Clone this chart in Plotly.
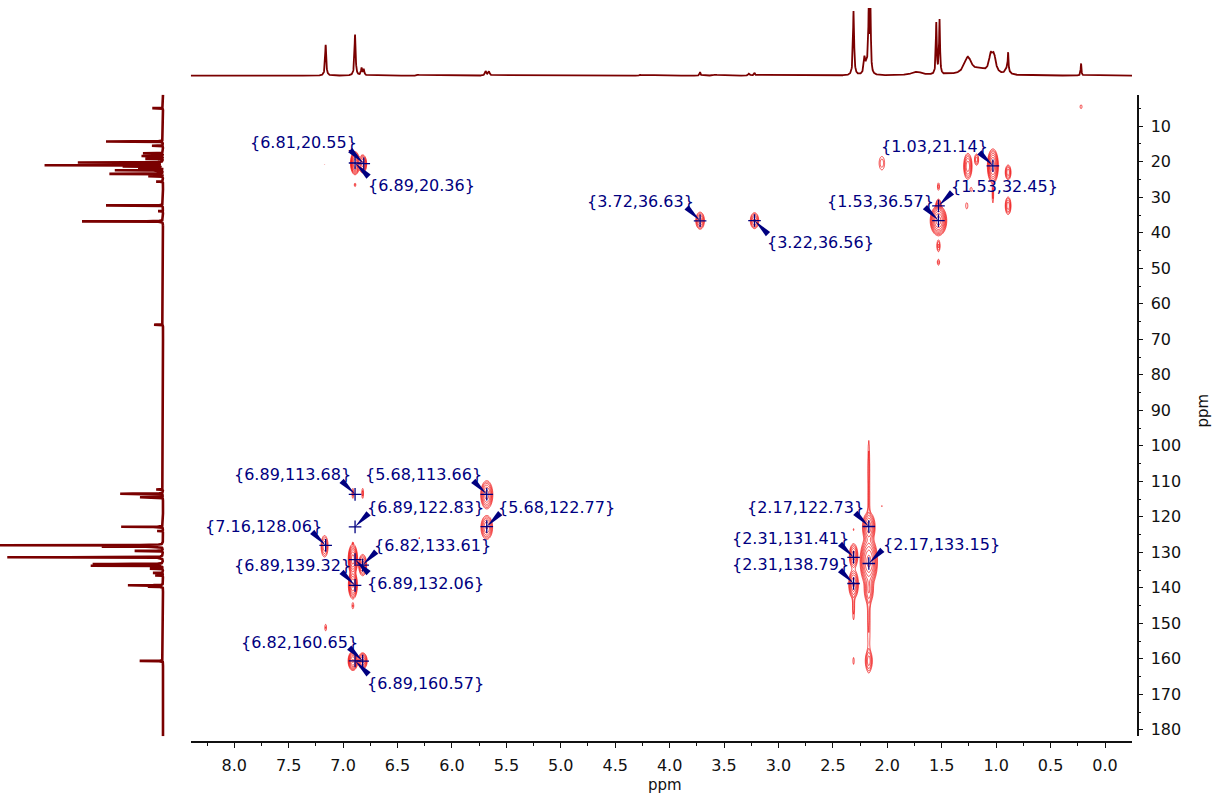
import numpy as np
import plotly.graph_objects as go

W, H = 1215, 796

# ---------------- data ----------------
# 1H projection (top): peak ppm, height, half width
h_ppm = [7.16, 6.89, 6.83, 6.81, 6.31, 5.69, 5.66, 4.27, 3.72, 3.58, 3.27, 3.22,
         2.31, 2.21, 2.19, 2.17, 2.155, 1.73, 1.55, 1.52, 1.42, 1.26, 1.15, 1.05,
         1.02, 0.90, 0.89, 0.22]
h_int = [30, 40, 7, 6, 1, 4, 4, 0.8, 3.5, 1, 2, 2.8,
         63, 15, 10, 65, 60, 3.5, 50, 53, 1, 17, 5, 16,
         16, 6, 17, 12]
h_hw = [0.006, 0.006, 0.006, 0.006, 0.01, 0.008, 0.008, 0.01, 0.005, 0.02, 0.008, 0.006,
        0.006, 0.008, 0.012, 0.005, 0.005, 0.06, 0.005, 0.005, 0.02, 0.04, 0.06, 0.02,
        0.02, 0.02, 0.004, 0.004]

# 13C projection (left): peak ppm, height
c_ppm = [4.9, 14.3, 15.5, 17.6, 18.4, 19.2, 20.2, 20.5, 21.0, 21.3, 21.7, 22.4, 23.4,
         24.1, 25.6, 32.3, 33.9, 36.8, 65.9, 112.3, 113.5, 114.5, 122.8, 124.0,
         128.0, 128.4, 129.6, 131.4, 133.3, 133.8, 134.6, 135.8, 136.5, 139.3, 139.7, 160.6]
c_int = [11, 57, 11, 20, 22, 18, 87, 30, 121, 40, 25, 48, 55,
         15, 7, 57, 5, 81, 9, 7, 44, 23, 43, 6,
         165, 62, 29, 160, 72, 74, 13, 10, 8, 36, 15, 24]

# HMBC cross peaks: 1H ppm, 13C ppm, amplitude
cp_h = [6.89, 6.82, 6.89, 7.17,
        3.72, 3.22,
        2.05, 1.26, 1.18, 1.03, 1.03, 0.89, 0.89, 1.23, 1.27, 1.53, 1.53, 1.53, 1.53, 1.53,
        6.91, 6.82, 7.17, 6.91, 6.82, 6.91, 6.91, 7.16, 6.30, 6.91, 6.91, 6.82,
        5.68, 5.68,
        2.17, 2.17, 2.17, 2.17, 2.17, 2.17, 2.31, 2.31, 2.31, 2.31, 2.31, 2.17, 2.05,
        0.22]
cp_c = [20.4, 20.6, 26.5, 20.8,
        36.6, 36.6,
        20.4, 21.3, 19.4, 21.2, 29.0, 23.0, 32.4, 27.8, 32.4, 36.6, 32.5, 27.0, 43.7, 48.3,
        113.4, 113.4, 128.3, 132.0, 133.6, 139.2, 145.1, 151.2, 126.0, 127.4, 160.6, 160.6,
        113.8, 123.0,
        104.0, 117.0, 148.0, 122.9, 132.5, 140.5, 131.0, 139.0, 145.5, 123.6, 160.6, 160.6, 117.0,
        4.5]
cp_amp = [30, 14, 1.7, 1.15,
          9, 8,
          2.2, 10, 3.5, 25, 2.0, 6, 6, 1.6, 1.6, 40, 7, 2.0, 3, 2,
          2.0, 2.0, 6, 25, 10, 20, 1.7, 1.7, 1.2, 1.2, 20, 14,
          15, 12,
          1.3, 1.6, 1.8, 15, 35, 6, 10, 12, 2.0, 1.3, 1.6, 5, 1.2,
          1.5]
# cross peak line widths (ppm, sigma) along 1H and 13C
cp_wh = [0.016, 0.016, 0.007, 0.004,
         0.019, 0.019,
         0.02, 0.018, 0.012, 0.02, 0.006, 0.014, 0.014, 0.01, 0.01, 0.028, 0.012, 0.008, 0.01, 0.009,
         0.007, 0.007, 0.017, 0.017, 0.017, 0.017, 0.008, 0.008, 0.005, 0.004, 0.018, 0.018,
         0.024, 0.024,
         0.006, 0.009, 0.011, 0.025, 0.03, 0.022, 0.018, 0.02, 0.008, 0.005, 0.006, 0.018, 0.004,
         0.01]
cp_wc = [1.25, 1.1, 0.5, 0.15,
         1.15, 1.1,
         1.5, 1.7, 1.0, 1.9, 2.2, 1.1, 1.3, 0.6, 0.9, 1.55, 1.0, 0.9, 1.1, 0.7,
         1.2, 1.2, 1.6, 1.7, 1.4, 1.6, 0.8, 0.9, 0.35, 0.3, 1.1, 1.0,
         1.7, 1.5,
         5, 10, 10, 1.8, 2.6, 2.0, 1.6, 1.8, 3.0, 0.4, 1.0, 1.6, 0.3,
         0.6]

# annotated correlations
lab_h = [6.81, 6.89, 3.72, 3.22, 1.03, 1.53, 1.53, 6.89, 5.68, 6.89, 5.68,
         7.16, 6.82, 6.89, 6.89, 6.82, 6.89, 2.17, 2.31, 2.17, 2.31]
lab_c = [20.55, 20.36, 36.63, 36.56, 21.14, 32.45, 36.57, 113.68, 113.66, 122.83, 122.77,
         128.06, 133.61, 139.32, 132.06, 160.65, 160.57, 122.73, 131.41, 133.15, 138.79]

# label text offsets (pixels, screen coords: +x right, +y down)
lab_off = [(-60, -21), (66, 22), (-60, -19), (66, 22), (-58, -19), (66, -19), (-58, -19),
           (-63, -20), (-63, -20), (70, -19), (70, -19),
           (-62, -19), (70, -20), (-63, -20), (70, 24), (-63, -19), (70, 23),
           (-63, -18.5), (-63, -19), (73, -19), (-63, -19)]

# ---------------- geometry ----------------
XD = [190.7 / W, 1132 / W]
YD = [1 - 739 / H, 1 - 95 / H]
XR = [8.40, -0.248]
YR = [181.8, 1.1]

NAVY = "#000080"
DARKRED = "#7a0000"
RED = "rgb(238,0,0)"
FONT = "DejaVu Sans"

fig = go.Figure()

# ---------------- 2D contours ----------------
regions = [(6.6, 7.3, 12, 32), (3.0, 3.9, 28, 46), (0.7, 2.25, 10, 56),
           (6.15, 7.35, 105, 172), (5.5, 5.85, 105, 132), (1.95, 2.45, 92, 172),
           (0.1, 0.35, 1.1, 10)]
cph = np.array(cp_h); cpc = np.array(cp_c); cpa = np.array(cp_amp)
cpwh = np.array(cp_wh); cpwc = np.array(cp_wc)
for (h0, h1, c0, c1) in regions:
    xs = np.arange(h0, h1 + 1e-9, 0.005)
    ys = np.arange(c0, c1 + 1e-9, 0.2)
    X, Y = np.meshgrid(xs, ys)
    Z = np.zeros_like(X)
    for k in range(len(cph)):
        Z += cpa[k] * np.exp(-0.5 * ((X - cph[k]) / cpwh[k]) ** 2
                             - 0.5 * ((Y - cpc[k]) / cpwc[k]) ** 2)
    Zl = np.round(np.maximum(np.log10(Z + 1e-9), -1.0), 3)
    fig.add_trace(go.Contour(
        x=np.round(xs, 4), y=np.round(ys, 3), z=Zl,
        autocontour=False,
        contours=dict(start=0.0, end=2.0, size=0.21, coloring="lines"),
        colorscale=[[0, RED], [1, RED]], showscale=False,
        line=dict(width=0.7), hoverinfo="skip", xaxis="x", yaxis="y"))

# ---------------- 1H projection ----------------
hx = np.arange(-0.25, 8.40, 0.0015)
hy = np.zeros_like(hx)
for p, a, w in zip(h_ppm, h_int, h_hw):
    hy += a * w ** 2 / ((hx - p) ** 2 + w ** 2)
fig.add_trace(go.Scatter(x=np.round(hx, 4), y=np.round(hy, 2), mode="lines",
                         line=dict(color=DARKRED, width=1.8),
                         hoverinfo="skip", xaxis="x", yaxis="y2"))

# ---------------- 13C projection ----------------
cy = np.arange(1.1, 181.8, 0.015)
cx = np.zeros_like(cy)
for p, a in zip(c_ppm, c_int):
    cx += a * 0.03 ** 2 / ((cy - p) ** 2 + 0.03 ** 2)
fig.add_trace(go.Scatter(x=np.round(cx, 2), y=np.round(cy, 3), mode="lines",
                         line=dict(color=DARKRED, width=2.6),
                         hoverinfo="skip", xaxis="x2", yaxis="y"))

# ---------------- crosshair markers ----------------
fig.add_trace(go.Scatter(x=lab_h, y=lab_c, mode="markers",
                         marker=dict(symbol="cross-thin", size=9,
                                     line=dict(color=NAVY, width=1.3)),
                         hoverinfo="skip", xaxis="x", yaxis="y"))

# ---------------- labels & wedge arrows ----------------
annotations = []
shapes = []
for hh, cc, (dx, dy) in zip(lab_h, lab_c, lab_off):
    annotations.append(dict(x=hh, y=cc, xref="x", yref="y",
                            text="{%.2f,%.2f}" % (hh, cc), showarrow=False,
                            xshift=dx, yshift=-dy,
                            font=dict(family=FONT, size=16, color=NAVY)))
    sx = 1 if dx > 0 else -1
    sy = 1 if dy > 0 else -1
    tx, ty = sx * 13.5, sy * 13.5
    L = (tx ** 2 + ty ** 2) ** 0.5
    px, py = -ty / L * 3.0, tx / L * 3.0
    p1 = (tx + px, ty + py)
    p2 = (tx - px, ty - py)
    path = "M%.2f,%.2f L%.2f,%.2f L0,0 Z" % (p1[0], -p1[1], p2[0], -p2[1])
    shapes.append(dict(type="path", xref="x", yref="y", xsizemode="pixel",
                       ysizemode="pixel", xanchor=hh, yanchor=cc, path=path,
                       fillcolor=NAVY, line=dict(width=0), layer="above"))

annotations.append(dict(x=665 / W, y=1 - 788 / H, xref="paper", yref="paper",
                        xanchor="center", yanchor="middle",
                        text="ppm", showarrow=False,
                        font=dict(family=FONT, size=15, color="#111")))
annotations.append(dict(x=1203 / W, y=1 - 412 / H, xref="paper", yref="paper",
                        xanchor="center", yanchor="middle",
                        text="ppm", showarrow=False, textangle=-90,
                        font=dict(family=FONT, size=15, color="#111")))

tickfont = dict(family=FONT, size=16, color="#111")
fig.update_layout(
    width=W, height=H, margin=dict(l=0, r=0, t=0, b=0),
    plot_bgcolor="white", paper_bgcolor="white", showlegend=False,
    xaxis=dict(domain=XD, range=XR, anchor="free", position=1 - 745 / H,
               showline=True, linecolor="#111", linewidth=1.5, mirror=False,
               ticks="outside", ticklen=5, tickwidth=1.3, tickcolor="#111",
               tick0=0, dtick=0.5, tickformat=".1f", tickfont=tickfont,
               ticklabelstandoff=4,
               minor=dict(ticks="outside", ticklen=3, tickwidth=1.1, dtick=0.25,
                          tickcolor="#111", showgrid=False),
               showgrid=False, zeroline=False),
    yaxis=dict(domain=YD, range=YR, anchor="free", position=1137.7 / W, side="right",
               showline=True, linecolor="#111", linewidth=1.5,
               ticks="outside", ticklen=5, tickwidth=1.3, tickcolor="#111",
               tick0=0, dtick=10, tickfont=tickfont, ticklabelstandoff=4,
               minor=dict(ticks="outside", ticklen=3, tickwidth=1.1, dtick=5,
                          tickcolor="#111", showgrid=False),
               showgrid=False, zeroline=False),
    xaxis2=dict(domain=[0, 165 / W], range=[163, -2], visible=False, anchor="y",
                showgrid=False, zeroline=False),
    yaxis2=dict(domain=[1 - 78 / H, 1 - 8 / H], range=[-2, 66], visible=False,
                anchor="x", showgrid=False, zeroline=False),
    annotations=annotations, shapes=shapes,
)

fig.write_html("out.html", config={"displayModeBar": False},
               post_script="document.body.style.margin='0px';")
